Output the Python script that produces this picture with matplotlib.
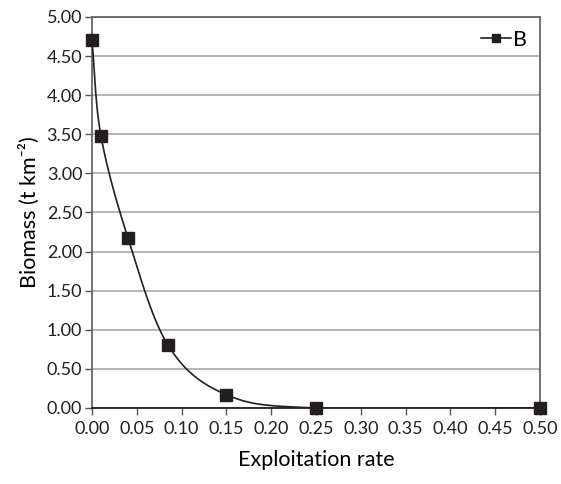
import numpy as np
import matplotlib.pyplot as plt

# 开发率与生物量
rate = [0.0, 0.01, 0.04, 0.085, 0.15, 0.25, 0.50]
biomass = [4.70, 3.48, 2.18, 0.80, 0.17, 0.0, 0.0]
xticks = [0.0, 0.05, 0.10, 0.15, 0.20, 0.25, 0.30, 0.35, 0.40, 0.45, 0.50]
yticks = [0.0, 0.5, 1.0, 1.5, 2.0, 2.5, 3.0, 3.5, 4.0, 4.5, 5.0]


def smooth_curve(x, y, n=40):
    # Catmull-Rom 平滑（类似 Excel 的平滑线）
    x = np.asarray(x, float)
    y = np.asarray(y, float)
    px = np.concatenate([[2 * x[0] - x[1]], x, [2 * x[-1] - x[-2]]])
    py = np.concatenate([[2 * y[0] - y[1]], y, [2 * y[-1] - y[-2]]])
    xs, ys = [], []
    t = np.linspace(0, 1, n)
    for i in range(1, len(px) - 2):
        p0, p1, p2, p3 = [np.array([px[j], py[j]]) for j in range(i - 1, i + 3)]
        m1 = (p2 - p0) / 6
        m2 = (p3 - p1) / 6
        b = np.outer((1 - t) ** 3, p1) + np.outer(3 * (1 - t) ** 2 * t, p1 + m1) \
            + np.outer(3 * (1 - t) * t ** 2, p2 - m2) + np.outer(t ** 3, p2)
        xs.extend(b[:, 0])
        ys.extend(b[:, 1])
    return np.array(xs), np.array(ys)


def main():
    plt.rcParams['font.family'] = ['Lato', 'DejaVu Sans']
    fig = plt.figure(figsize=(5.61, 4.84), dpi=100)
    ax = fig.add_axes([92 / 561, 1 - 408 / 484, 448 / 561, 391 / 484])

    sx, sy = smooth_curve(rate, biomass)
    ax.plot(sx, sy, color='#231f20', lw=1.2, zorder=3)
    ax.plot(rate, biomass, 's', color='#231f20', ms=8, zorder=4, clip_on=False)
    ax.plot([], [], '-s', color='#231f20', ms=6, lw=1.2, label='B')

    ax.set_xlim(0, 0.5)
    ax.set_ylim(0, 5)
    ax.set_xticks(xticks)
    ax.set_xticklabels([f"{v:.2f}" for v in xticks])
    ax.set_yticks(yticks)
    ax.set_yticklabels([f"{v:.2f}" for v in yticks])
    ax.tick_params(axis='both', labelsize=13, colors='#555555', labelcolor='#231f20',
                   length=5, width=1)
    ax.tick_params(axis='x', pad=4)
    ax.tick_params(axis='y', pad=2)
    ax.grid(axis='y', color='#b0b0b0', lw=1.3)
    for s in ax.spines.values():
        s.set_color('#666666')
        s.set_linewidth(1.3)
    ax.spines['bottom'].set_color('#231f20')

    ax.set_xlabel('Exploitation rate', fontsize=15.5, labelpad=10)
    ax.set_ylabel('Biomass (t km⁻²)', fontsize=15.5, labelpad=5)

    ax.legend(loc='upper right', frameon=False, fontsize=15.5,
              handlelength=1.4, handletextpad=0.1, borderaxespad=0.2)

    fig.savefig('out.png', dpi=100)


if __name__ == "__main__":
    main()
